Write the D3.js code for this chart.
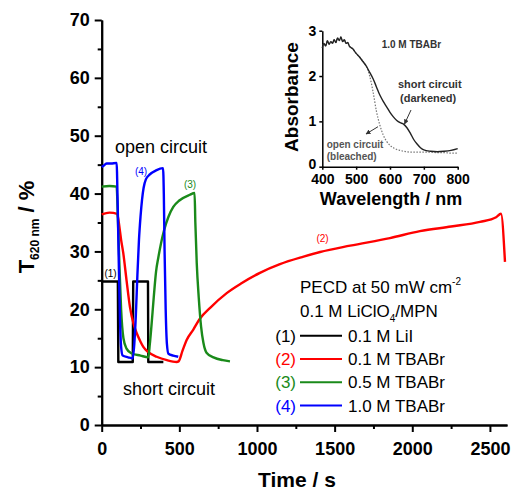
<!DOCTYPE html>
<html><head><meta charset="utf-8">
<script src="https://cdn.jsdelivr.net/npm/d3@7"></script>
<style>body{margin:0;background:#fff}svg{display:block}text{font-family:"Liberation Sans",Arial,sans-serif}</style>
</head><body><svg id="c" width="512" height="491"></svg>
<script>
// ---- main chart data (time in s, T620 in %) ----
const t1 = [0,50,104,107,200,203,250,298,300,350,397];
const v1 = [24.8,24.8,24.8,10.9,10.9,24.8,24.8,24.8,10.9,10.9,10.9];
const t2 = [0,50,100,110,125,139,160,182,205,225,250,268,300,354,420,483,495,520,547,590,633,700,805,900,1019,1148,1300,1406,1600,1856,2049,2250,2436,2540,2571,2597];
const v2 = [36.4,36.7,36.5,35,32,29.7,25,20.4,17.5,15.9,14.4,13.5,12.6,11.8,11.2,10.9,11,12.8,14.7,16.5,18.4,20.3,22.8,24.5,26.3,27.8,29.1,29.9,31,32.3,33.5,34.3,35.1,35.9,36.5,28.2];
const t3 = [0,50,96,105,115,125,140,160,190,250,300,310,320,335,350,365,400,430,461,500,568,598,603,612,625,640,655,675,720,780,826];
const v3 = [41.2,41.3,41.2,35,27,20,15,13.2,12.4,12,11.7,14,17,22,26.5,29,33.5,36,37.7,38.8,39.8,40.1,35,28,22,17,14.2,12.5,11.7,11.2,11];
const t4 = [0,20,32,60,96,103,110,118,125,135,170,200,210,220,230,240,250,260,270,285,310,350,395,400,405,412,420,430,460,493];
const v4 = [44.6,45,45.2,45.2,45.3,38,28,18,13.5,12,11.7,11.5,14,19,26,32,36,39,41,42.5,43.3,44,44.4,40,30,20,14,12.3,12,11.8];
const seriesColors = ["#000000","#ff0000","#1a8a1a","#0000ff"];
const seriesNums = ["(1)","(2)","(3)","(4)"];
const seriesNames = ["0.1 M LiI","0.1 M TBABr","0.5 M TBABr","1.0 M TBABr"];
const xTicks = [0,500,1000,1500,2000,2500];
const yTicks = [0,10,20,30,40,50,60,70];

// ---- inset data (wavelength nm, absorbance) ----
const wl = [400,405,410,415,420,425,430,435,440,445,450,455,460,465,470,475,480,490,500,510,520,530,540,550,560,570,580,590,600,610,620,630,640,650,660,670,680,690,700,720,740,760,780,800];
const absDark = [2.62,2.72,2.66,2.78,2.70,2.76,2.72,2.80,2.74,2.84,2.78,2.86,2.76,2.80,2.72,2.74,2.66,2.60,2.50,2.42,2.32,2.22,2.08,1.94,1.76,1.58,1.44,1.32,1.20,1.10,1.02,0.97,0.94,0.86,0.74,0.60,0.50,0.42,0.37,0.34,0.33,0.34,0.36,0.40];
const absBleach = [2.62,2.72,2.66,2.78,2.70,2.76,2.72,2.80,2.74,2.84,2.78,2.86,2.76,2.80,2.72,2.74,2.66,2.60,2.50,2.42,2.32,2.22,2.00,1.65,1.22,0.92,0.70,0.56,0.47,0.42,0.38,0.36,0.34,0.33,0.32,0.32,0.32,0.32,0.32,0.32,0.31,0.31,0.30,0.30];
const insetXTicks = [400,500,600,700,800];
const insetYTicks = [0,1,2,3];

const svg = d3.select("#c");
const x = d3.scaleLinear().domain([0,2610]).range([101.7,507]);
const y = d3.scaleLinear().domain([0,70]).range([425,20]);
const fmt = d3.format("d");

// axes
const yAx = svg.append("g").attr("transform","translate(101.7,0)")
  .call(d3.axisLeft(y).tickValues(yTicks).tickFormat(fmt).tickSize(7).tickSizeOuter(0).tickPadding(5));
const yMin = svg.append("g").attr("transform","translate(101.7,0)")
  .call(d3.axisLeft(y).tickValues(d3.range(5,70,10)).tickSize(4).tickFormat("").tickSizeOuter(0));
const xAx = svg.append("g").attr("transform","translate(0,425)")
  .call(d3.axisBottom(x).tickValues(xTicks).tickFormat(fmt).tickSize(7).tickSizeOuter(0).tickPadding(10));
const xMin = svg.append("g").attr("transform","translate(0,425)")
  .call(d3.axisBottom(x).tickValues(d3.range(250,2600,500)).tickSize(4).tickFormat("").tickSizeOuter(0));
[yAx,yMin,xAx,xMin].forEach(g=>{g.selectAll("path,line").attr("stroke","#000").attr("stroke-width",2);});
[yAx,xAx].forEach(g=>g.selectAll("text").attr("font-size",18).attr("font-weight","bold").attr("fill","#000"));

// axis titles
svg.append("text").attr("x",297).attr("y",487).attr("text-anchor","middle")
  .attr("font-size",21).attr("font-weight","bold").text("Time / s");
const yl = svg.append("text").attr("transform","translate(34,227) rotate(-90)")
  .attr("text-anchor","middle").attr("font-weight","bold").attr("font-size",22);
yl.append("tspan").text("T");
yl.append("tspan").attr("font-size",12).attr("dy",5).text("620 nm");
yl.append("tspan").attr("dy",-5).text(" / %");

// curves
const stepLine = d3.line().x(d=>x(d[0])).y(d=>y(d[1]));
const smoothLine = d3.line().x(d=>x(d[0])).y(d=>y(d[1])).curve(d3.curveMonotoneX);
const sets = [[t1,v1],[t2,v2],[t3,v3],[t4,v4]];
sets.forEach((s,i)=>{
  const pts = s[0].map((t,j)=>[t,s[1][j]]);
  svg.append("path").datum(pts).attr("d",i===0?stepLine:smoothLine).attr("fill","none")
    .attr("stroke",seriesColors[i]).attr("stroke-width",2.4).attr("stroke-linejoin","round");
});

// curve labels
const curveLab = [[0,110.5,276.5],[1,322.5,242],[2,190,188],[3,141,175]];
curveLab.forEach(c=>svg.append("text").attr("x",c[1]).attr("y",c[2]).attr("text-anchor","middle")
  .attr("font-size",10).attr("fill",seriesColors[c[0]]).text(seriesNums[c[0]]));

svg.append("text").attr("x",115).attr("y",153).attr("font-size",18).text("open circuit");
svg.append("text").attr("x",123).attr("y",395).attr("font-size",18).text("short circuit");

// legend
const l1 = svg.append("text").attr("x",300).attr("y",293).attr("font-size",17);
l1.append("tspan").text("PECD at 50 mW cm");
l1.append("tspan").attr("font-size",10).attr("dy",-8).text("-2");
const l2 = svg.append("text").attr("x",300).attr("y",316.7).attr("font-size",17);
l2.append("tspan").text("0.1 M LiClO");
l2.append("tspan").attr("font-size",10).attr("dy",5).text("4");
l2.append("tspan").attr("dy",-5).text("/MPN");
seriesNames.forEach((n,i)=>{
  const by = 341.7 + i*23.3;
  svg.append("text").attr("x",296).attr("y",by).attr("text-anchor","end").attr("font-size",17)
    .attr("fill",seriesColors[i]).text(seriesNums[i]);
  svg.append("line").attr("x1",300).attr("x2",342).attr("y1",by-6).attr("y2",by-6)
    .attr("stroke",seriesColors[i]).attr("stroke-width",2);
  svg.append("text").attr("x",348).attr("y",by).attr("font-size",17).text(n);
});

// ---- inset ----
const ix = d3.scaleLinear().domain([400,800]).range([322.3,457.7]);
const iy = d3.scaleLinear().domain([0,3]).range([166.7,30.7]);
const iyAx = svg.append("g").attr("transform","translate(322.3,0)")
  .call(d3.axisLeft(iy).tickValues(insetYTicks).tickFormat(fmt).tickSize(3).tickSizeOuter(0).tickPadding(3));
const ixAx = svg.append("g").attr("transform","translate(0,166.7)")
  .call(d3.axisBottom(ix).tickValues(insetXTicks).tickFormat(fmt).tickSize(3).tickSizeOuter(0).tickPadding(4));
[iyAx,ixAx].forEach(g=>{g.selectAll("path,line").attr("stroke","#000").attr("stroke-width",1.5);
  g.selectAll("text").attr("font-size",14).attr("font-weight","bold").attr("fill","#000");});
iyAx.selectAll(".tick").filter(d=>d===0).select("text").attr("dy","0.1em");
svg.append("text").attr("transform","translate(298,97) rotate(-90)").attr("text-anchor","middle")
  .attr("font-size",19).attr("font-weight","bold").text("Absorbance");
svg.append("text").attr("x",391).attr("y",205).attr("text-anchor","middle")
  .attr("font-size",18).attr("font-weight","bold").text("Wavelength / nm");
const iline = d3.line().x(d=>ix(d[0])).y(d=>iy(d[1])).curve(d3.curveMonotoneX);
svg.append("path").datum(wl.map((w,j)=>[w,absBleach[j]])).attr("d",iline).attr("fill","none")
  .attr("stroke","#777").attr("stroke-width",1.2).attr("stroke-dasharray","1.5,1.5");
svg.append("path").datum(wl.map((w,j)=>[w,absDark[j]])).attr("d",iline).attr("fill","none")
  .attr("stroke","#222").attr("stroke-width",1.4);
svg.append("text").attr("x",381.7).attr("y",47.7).attr("font-size",10).attr("font-weight","bold")
  .attr("fill","#333").text("1.0 M TBABr");
svg.append("text").attr("x",398).attr("y",88.3).attr("font-size",11).attr("font-weight","bold").attr("fill","#333").text("short circuit");
svg.append("text").attr("x",400).attr("y",101.7).attr("font-size",11).attr("font-weight","bold").attr("fill","#333").text("(darkened)");
svg.append("text").attr("x",326.7).attr("y",148.3).attr("font-size",10).attr("font-weight","bold").attr("fill","#555").text("open circuit");
svg.append("text").attr("x",326.7).attr("y",160).attr("font-size",10).attr("font-weight","bold").attr("fill","#555").text("(bleached)");
const defs = svg.append("defs");
defs.append("marker").attr("id","ah").attr("viewBox","0 0 10 10").attr("refX",9).attr("refY",5)
  .attr("markerWidth",5).attr("markerHeight",5).attr("orient","auto")
  .append("path").attr("d","M0,0L10,5L0,10z").attr("fill","#333");
svg.append("line").attr("x1",411).attr("y1",110).attr("x2",404.5).attr("y2",124)
  .attr("stroke","#333").attr("stroke-width",1).attr("marker-end","url(#ah)");
svg.append("line").attr("x1",378).attr("y1",126.7).attr("x2",366).attr("y2",134)
  .attr("stroke","#333").attr("stroke-width",1).attr("marker-end","url(#ah)");
</script></body></html>
